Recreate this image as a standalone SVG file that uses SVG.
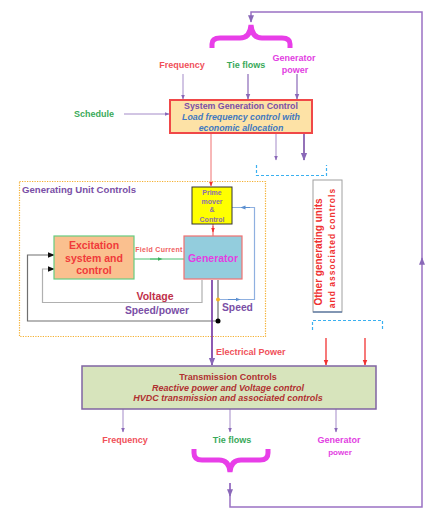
<svg xmlns="http://www.w3.org/2000/svg" width="432" height="511" viewBox="0 0 432 511">
<style>
text{font-family:"Liberation Sans",Arial,sans-serif;font-weight:bold}
.lbl{font-size:9px}
.red{fill:#f0505a}
.grn{fill:#3aaa5a}
.mag{fill:#e23ee2}
.pur{fill:#7a4fa6}
.brace{fill:none;stroke:#e83ee8;stroke-width:5;stroke-linecap:butt}
</style>
<defs>
<marker id="ap" viewBox="0 0 10 10" refX="9" refY="5" markerWidth="5" markerHeight="5" orient="auto"><path d="M0,1 L10,5 L0,9 z" fill="#8a68b8"/></marker>
<marker id="ar" viewBox="0 0 10 10" refX="9" refY="5" markerWidth="5" markerHeight="5" orient="auto"><path d="M0,1 L10,5 L0,9 z" fill="#f03030"/></marker>
<marker id="ab" viewBox="0 0 10 10" refX="9" refY="5" markerWidth="6" markerHeight="6" orient="auto"><path d="M0,1 L10,5 L0,9 z" fill="#111"/></marker>
<marker id="abl" viewBox="0 0 10 10" refX="5" refY="5" markerWidth="5" markerHeight="5" orient="auto"><path d="M0,1 L10,5 L0,9 z" fill="#5b8fd0"/></marker>
<marker id="ag" viewBox="0 0 10 10" refX="5" refY="5" markerWidth="5" markerHeight="5" orient="auto"><path d="M0,1 L10,5 L0,9 z" fill="#3aaa5a"/></marker>
</defs>

<rect id="gen-unit-frame" x="19.5" y="181.5" width="246" height="155" fill="none" stroke="#f5b030" stroke-width="1.2" stroke-dasharray="1.2,1.3"/>

<g id="connectors" fill="none">
  <path d="M230,483 V507 H422 V12 H251 V22" stroke="#9a72c4" stroke-width="1.5" marker-end="url(#ap)"/>
  <path d="M230,483 V496" stroke="#9a72c4" stroke-width="1.5" marker-end="url(#ap)"/>
  <path d="M422,262 V258" stroke="#9a72c4" stroke-width="1.5" marker-end="url(#ap)"/>
  <path d="M183,74 V99" stroke="#a48bc8" stroke-width="1" marker-end="url(#ap)"/>
  <path d="M248,74 V99" stroke="#8a68b8" stroke-width="1.2" marker-end="url(#ap)"/>
  <path d="M297,74 V99" stroke="#8a68b8" stroke-width="1.2" marker-end="url(#ap)"/>
  <path d="M124,114 H169" stroke="#a48bc8" stroke-width="1" marker-end="url(#ap)"/>
  <path d="M276,133 V160" stroke="#a48bc8" stroke-width="1" marker-end="url(#ap)"/>
  <path d="M304,133 V160" stroke="#7a4fa6" stroke-width="1.6" marker-end="url(#ap)"/>
  <path d="M211,133 V186" stroke="#f07070" stroke-width="1" marker-end="url(#ar)"/>
  <path d="M256.5,165 V175.5 H326.5 V165" stroke="#3ab0f0" stroke-width="1.2" stroke-dasharray="3,2"/>
  <path d="M312.5,330 V320.5 H382.5 V330" stroke="#3ab0f0" stroke-width="1.2" stroke-dasharray="3,2"/>
  <path d="M213,224 V236" stroke="#f05050" stroke-width="1"/>
  <path d="M213,226 V232" stroke="#f05050" stroke-width="1" marker-end="url(#ar)"/>
  <path d="M134,259 H184" stroke="#4cc070" stroke-width="1"/>
  <path d="M150,259 H160" stroke="#4cc070" stroke-width="1" marker-end="url(#ag)"/>
  <path d="M218,299.5 H254.5 V207.5 H232" stroke="#8fb0e0" stroke-width="1.2"/>
  <path d="M228,299.5 H238" stroke="#5b8fd0" stroke-width="1" marker-end="url(#abl)"/>
  <path d="M250,207.5 H243" stroke="#5b8fd0" stroke-width="1" marker-end="url(#abl)"/>
  <path d="M202,280 V302.5 H42.5 V269 H54" stroke="#b0b0b0" stroke-width="1.2" marker-end="url(#ab)"/>
  <path d="M218,280 V321 H27.5 V255 H54" stroke="#707070" stroke-width="1.2" marker-end="url(#ab)"/>
  <circle cx="218" cy="321" r="2.5" fill="#000"/>
  <circle cx="218" cy="299.5" r="2" fill="#f8b020"/>
  <path d="M212,280 V365" stroke="#7030a0" stroke-width="1.6" marker-end="url(#ap)"/>
  <path d="M326,338 V365" stroke="#f02020" stroke-width="1.2" marker-end="url(#ar)"/>
  <path d="M365,338 V365" stroke="#f02020" stroke-width="1.2" marker-end="url(#ar)"/>
  <path d="M123,409 V432" stroke="#a48bc8" stroke-width="1" marker-end="url(#ap)"/>
  <path d="M230,409 V432" stroke="#a48bc8" stroke-width="1" marker-end="url(#ap)"/>
  <path d="M336,409 V432" stroke="#a48bc8" stroke-width="1" marker-end="url(#ap)"/>
  <path class="brace" d="M212,48 V44 Q212,38 220,38 H240 Q250,38 251,25 Q252,38 262,38 H282 Q290,38 290,44 V48"/>
  <path class="brace" d="M194,449 V453 Q194,460 202,460 H219 Q229,460 230,472 Q231,460 241,460 H260 Q268,460 268,453 V449"/>
</g>

<g id="top-labels">
  <text class="lbl red" x="182" y="68" text-anchor="middle">Frequency</text>
  <text class="lbl grn" x="246" y="68" text-anchor="middle">Tie flows</text>
  <text class="lbl mag" x="294" y="61" text-anchor="middle">Generator</text>
  <text class="lbl mag" x="295" y="73" text-anchor="middle">power</text>
  <text class="lbl grn" x="94" y="117" text-anchor="middle">Schedule</text>
</g>

<g id="sgc">
  <rect x="170" y="100" width="142" height="33" fill="#fde2a6" stroke="#f04848" stroke-width="2"/>
  <text x="241" y="109" text-anchor="middle" font-size="8.8" fill="#7a4fa6">System Generation Control</text>
  <text x="241" y="120" text-anchor="middle" font-size="8.8" font-style="italic" fill="#3f78c0">Load frequency control with</text>
  <text x="241" y="130.5" text-anchor="middle" font-size="8.8" font-style="italic" fill="#3f78c0">economic allocation</text>
</g>

<g id="gen-unit-title">
  <text x="22" y="193" font-size="9.6" fill="#7a4fa6">Generating Unit Controls</text>
</g>

<g id="prime-mover">
  <rect x="192" y="187" width="40" height="37" fill="#ffff00" stroke="#333" stroke-width="1"/>
  <text x="212" y="195" text-anchor="middle" font-size="7" fill="#8c70a8">Prime</text>
  <text x="212" y="203.5" text-anchor="middle" font-size="7" fill="#8c70a8">mover</text>
  <text x="212" y="212" text-anchor="middle" font-size="7" fill="#8c70a8">&amp;</text>
  <text x="212" y="221.5" text-anchor="middle" font-size="7" fill="#8c70a8">Control</text>
</g>

<g id="excitation">
  <rect x="54" y="236" width="80" height="43" fill="#fac08f" stroke="#66cc80" stroke-width="1.2"/>
  <text x="94" y="249" text-anchor="middle" font-size="10.5" fill="#f03a3a">Excitation</text>
  <text x="94" y="261.5" text-anchor="middle" font-size="10.5" fill="#f03a3a">system and</text>
  <text x="94" y="274" text-anchor="middle" font-size="10.5" fill="#f03a3a">control</text>
</g>

<g id="generator">
  <rect x="184" y="236" width="58" height="43" fill="#93cddd" stroke="#f07070" stroke-width="1.2"/>
  <text x="213" y="261.5" text-anchor="middle" font-size="10.5" fill="#e23ee2">Generator</text>
</g>

<g id="unit-labels">
  <text x="159" y="252" text-anchor="middle" font-size="7" fill="#f06060" letter-spacing="0.3">Field Current</text>
  <text x="155" y="300" text-anchor="middle" font-size="10.5" fill="#c0304a">Voltage</text>
  <text x="157" y="314" text-anchor="middle" font-size="10.3" fill="#7a4fa6">Speed/power</text>
  <text x="222" y="311" font-size="10.3" fill="#7a4fa6">Speed</text>
  <text x="216" y="355" font-size="9" fill="#f0505a">Electrical Power</text>
</g>

<g id="other-units">
  <rect x="313" y="180" width="29" height="132" fill="#fff" stroke="#a0a0a0" stroke-width="1"/>
  <line x1="313" y1="312" x2="342" y2="312" stroke="#4f70a0" stroke-width="1.2"/>
  <text transform="translate(322,252) rotate(-90)" text-anchor="middle" font-size="10" fill="#f03030">Other generating units</text>
  <text transform="translate(335,248) rotate(-90)" text-anchor="middle" font-size="8.5" letter-spacing="1" fill="#f03030">and associated controls</text>
</g>

<g id="transmission">
  <rect x="82" y="366" width="294" height="43" fill="#d7e4bc" stroke="#8064a2" stroke-width="1.5"/>
  <text x="228" y="380" text-anchor="middle" font-size="9" fill="#b03030">Transmission Controls</text>
  <text x="228" y="390.5" text-anchor="middle" font-size="9" font-style="italic" fill="#b03030">Reactive power and Voltage control</text>
  <text x="228" y="401" text-anchor="middle" font-size="9" font-style="italic" fill="#b03030">HVDC transmission and associated controls</text>
</g>

<g id="bottom-labels">
  <text class="lbl red" x="125" y="443" text-anchor="middle">Frequency</text>
  <text class="lbl grn" x="232" y="443" text-anchor="middle">Tie flows</text>
  <text class="lbl mag" x="339" y="443" text-anchor="middle">Generator</text>
  <text class="mag" x="340" y="455" text-anchor="middle" font-size="8">power</text>
</g>
</svg>
